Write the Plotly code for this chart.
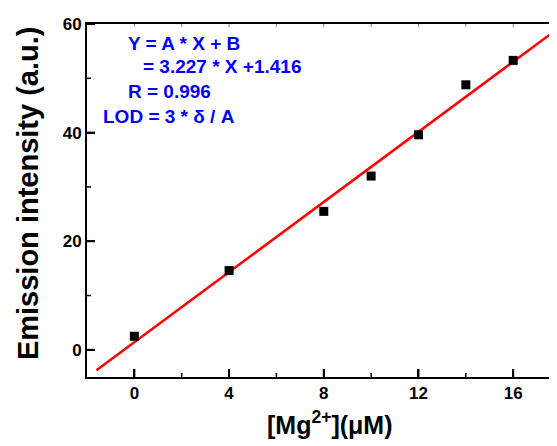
import plotly.graph_objects as go

conc = [0, 4, 8, 10, 12, 14, 16]
intensity = [2.5, 14.6, 25.5, 32.0, 39.6, 48.8, 53.3]
slope = 3.227
intercept = 1.416
fit_x = [-1.6, 17.6]
fit_y = [slope * v + intercept for v in fit_x]
eq_lines = ["Y = A * X + B", "= 3.227 * X +1.416", "R = 0.996", "LOD = 3 * δ / A"]
eq_x = [-0.34, 0.30, -0.34, -1.43]
eq_y = [56.5, 52.1, 47.6, 43.0]
x_major = [0, 4, 8, 12, 16]
x_minor = [2, 6, 10, 14]
y_major = [0, 20, 40, 60]
y_minor = [10, 30, 50]
x_title = "[Mg<sup>2+</sup>](μM)"
y_title = "Emission intensity (a.u.)"

FONT = "Liberation Sans, Arial, sans-serif"
W, H = 549, 438
M = dict(l=79, r=0, t=16, b=69)
plot_w = W - M["l"] - M["r"]
plot_h = H - M["t"] - M["b"]

fig = go.Figure()
fig.add_trace(go.Scatter(x=fit_x, y=fit_y, mode="lines",
                         line=dict(color="#ff0000", width=2.5), showlegend=False))
fig.add_trace(go.Scatter(x=conc, y=intensity, mode="markers",
                         marker=dict(symbol="square", size=9, color="black"),
                         showlegend=False))

for t, xx, yy in zip(eq_lines, eq_x, eq_y):
    fig.add_annotation(x=xx, y=yy, xref="x", yref="y", text="<b>" + t + "</b>",
                       showarrow=False, xanchor="left", yanchor="middle",
                       font=dict(family=FONT, size=19, color="#0000ff"))

# axis titles
fig.add_annotation(x=0.517, y=-0.13, xref="paper", yref="paper",
                   text="<b>" + x_title + "</b>", showarrow=False,
                   xanchor="center", yanchor="middle",
                   font=dict(family=FONT, size=25, color="black"))
fig.add_annotation(x=-0.1255, y=0.521, xref="paper", yref="paper",
                   text="<b>" + y_title + "</b>", showarrow=False, textangle=-90,
                   xanchor="center", yanchor="middle",
                   font=dict(family=FONT, size=29, color="black"))

# tick marks drawn as shapes (inside), lengths in pixels
def xtick(v, length, width, color="black", top=False):
    f = length / plot_h
    y0, y1 = (1, 1 - f) if top else (0, f)
    fig.add_shape(type="line", xref="x", yref="y domain", x0=v, x1=v, y0=y0, y1=y1,
                  line=dict(color=color, width=width), layer="above")

def ytick(v, length, width):
    fig.add_shape(type="line", xref="x domain", yref="y", x0=0, x1=length / plot_w,
                  y0=v, y1=v, line=dict(color="black", width=width), layer="above")

for v in x_major:
    xtick(v, 8, 2)
    xtick(v, 3, 1, color="#888888", top=True)
for v in x_minor:
    xtick(v, 4, 1.5)
    xtick(v, 3, 1, color="#888888", top=True)
for v in y_major:
    ytick(v, 8, 2)
for v in y_minor:
    ytick(v, 4, 1.5)

fig.update_layout(
    width=W, height=H,
    margin=M,
    paper_bgcolor="white", plot_bgcolor="white",
    font=dict(family=FONT, color="black"),
)
fig.update_xaxes(
    range=[-2, 17.85], tickvals=x_major,
    ticks="inside", ticklen=8, tickwidth=2, tickcolor="black",
    showline=True, linecolor="black", linewidth=2, mirror=True,
    showgrid=False, zeroline=False,
    tickfont=dict(family=FONT, size=17, color="black", weight="bold"),
)
fig.update_yaxes(
    range=[-5, 60], tickvals=y_major,
    ticks="inside", ticklen=8, tickwidth=2, tickcolor="black",
    showline=True, linecolor="black", linewidth=2, mirror=False,
    showgrid=False, zeroline=False,
    tickfont=dict(family=FONT, size=17, color="black", weight="bold"),
)

fig.write_html("out.html")
